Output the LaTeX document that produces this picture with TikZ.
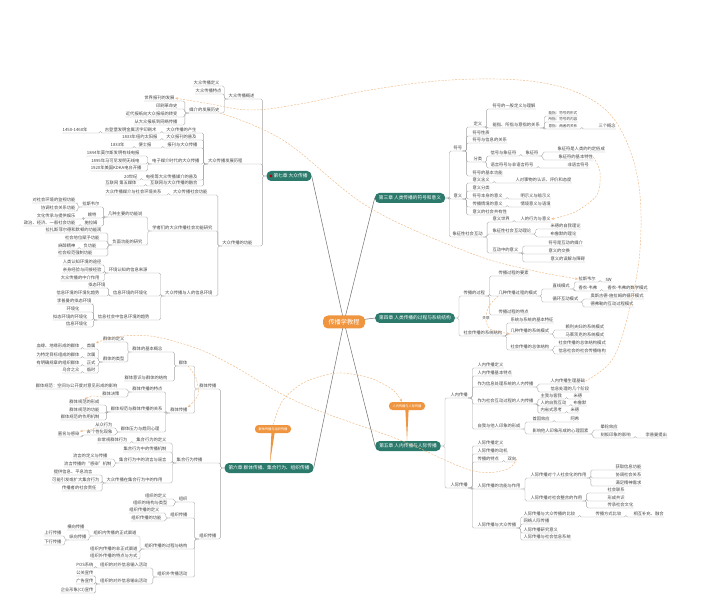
\documentclass[tikz,border=0pt]{standalone}
\usepackage{fontspec}
\newfontfamily\cjk{Noto Sans CJK SC}
\usetikzlibrary{arrows.meta,backgrounds}
\definecolor{teal0}{HTML}{2C7A6C}
\definecolor{orng}{HTML}{F0953F}
\definecolor{relc}{HTML}{F0B984}
\definecolor{lnc}{HTML}{A3A3A3}
\definecolor{txt}{HTML}{444444}
\definecolor{mainl}{HTML}{707070}
\tikzset{
 lf/.style={inner xsep=0.5pt,inner ysep=0.9pt,outer sep=0pt,text=txt,font=\cjk\fontsize{4.3}{5}\selectfont},
 lfs/.style={lf,font=\cjk\fontsize{3.6}{4.2}\selectfont},
 ln/.style={draw=lnc,line width=0.35pt,rounded corners=1.5pt},
 chap/.style={fill=teal0,text=white,rounded corners=4.5pt,minimum height=10pt,inner xsep=4pt,inner ysep=1pt,font=\cjk\fontsize{4.7}{5.5}\selectfont},
 rootst/.style={fill=orng,text=white,rounded corners=5pt,minimum height=13pt,minimum width=42pt,font=\cjk\fontsize{6.2}{7}\selectfont},
 calls/.style={fill=orng,text=white,rounded corners=3.5pt,minimum height=8pt,minimum width=36pt,inner xsep=2pt,inner ysep=0.5pt,font=\cjk\fontsize{3.2}{3.8}\selectfont},
 rel/.style={draw=relc,line width=0.45pt,dash pattern=on 2pt off 1.4pt},
 relA/.style={rel,-{Stealth[length=3pt,width=2.4pt]}},
 mainst/.style={draw=mainl,line width=0.5pt}
}
\newcommand\mkR[4]{\node[lf,anchor=south west] (#1) at (#2,#3) {#4};}
\newcommand\mkL[4]{\node[lf,anchor=south east] (#1) at (#2,#3) {#4};}
\newcommand\linkL[2]{\foreach \kid in {#2}{\draw[ln] (#1.south west) -- ++(-4,0) |- (\kid.south east) -- (\kid.south west);}}
\newcommand\linkR[2]{\foreach \kid in {#2}{\draw[ln] (#1.south east) -- ++(4,0) |- (\kid.south west) -- (\kid.south east);}}
\newcommand\linkCL[2]{\foreach \kid in {#2}{\draw[ln] (#1.west) -- ++(-4,0) |- (\kid.south east) -- (\kid.south west);}}
\newcommand\linkCR[2]{\foreach \kid in {#2}{\draw[ln] (#1.east) -- ++(4,0) |- (\kid.south west) -- (\kid.south east);}}
\begin{document}
\begin{tikzpicture}[x=1pt,y=-1pt]
\useasboundingbox (0,0) rectangle (720,601);
% ---------- root and chapters
\node[rootst] (root) at (344,322) {传播学教程};
\node[chap] (ch7) at (289,176) {\hspace{3pt}第七章 大众传播};
\fill[red!70!black] ([xshift=4.5pt]ch7.west) circle (1.5pt);
\node[chap] (ch3) at (410,198) {第三章 人类传播的符号和意义};
\node[chap] (ch4) at (415,318) {第四章 人类传播的过程与系统结构};
\node[chap] (ch5) at (408,446) {第五章 人内传播与人际传播};
\node[chap] (ch6) at (269,468) {第六章 群体传播、集合行为、组织传播};
\node[calls] (lab5) at (407,406) {人内传播与人际传播};
\node[calls] (lab6) at (273,429) {群体传播与组织传播};
\fill[orng] ([xshift=-1.6pt]lab5.south) -- ([xshift=1.6pt]lab5.south) -- (ch5.north -| lab5.south) -- cycle;
\fill[orng] ([xshift=-1.6pt]lab6.south) -- ([xshift=1.6pt]lab6.south) -- ([xshift=-3pt]ch6.north -| lab6.south) -- cycle;
% ---------- chapter 7 (left)
\mkL{a3}{255}{99}{大众传播概述}
\mkL{a1}{220}{86}{大众传播定义}
\mkL{a2}{222}{94}{大众传播特点}
\mkL{a4}{220}{113}{媒介的发展历史}
\mkL{a4a}{175}{101}{世界报刊的发展}
\mkL{a4b}{178}{109}{印刷革命史}
\mkL{a4c}{178}{117}{近代报纸向大众报纸的转变}
\mkL{a4d}{178}{125}{从大众报纸到网络传播}
\mkL{a16}{243}{164}{大众传播发展历程}
\mkL{a5}{197}{133}{大众传播的产生}
\mkL{a5a}{157}{133}{古登堡发明金属活字印刷术}
\mkL{a5b}{88}{133}{1450-1460年}
\mkL{a6}{197}{140}{大众报刊的普及}
\mkL{a6a}{158}{140}{1833年纽约太阳报}
\mkL{a7}{198}{148}{报刊与大众传播}
\mkL{a7a}{152}{148}{便士报}
\mkL{a7b}{125}{148}{1833年}
\mkL{a10}{200}{164}{电子媒介时代的大众传播}
\mkL{a8}{140}{156}{1844年莫尔斯发明有线电报}
\mkL{a9}{140}{164}{1895年马可尼发明无线电}
\mkL{a11}{142}{171}{1920年美国KDKA电台开播}
\mkL{a13}{198}{180}{电视等大众传播媒介的普及}
\mkL{a12}{138}{180}{20世纪}
\mkL{a15}{198}{186}{互联网与大众传播的融合}
\mkL{a14}{137}{186}{互联网 第五媒体}
\mkL{a40}{253}{246}{大众传播的功能}
\mkL{a18}{208}{195}{大众传播社会功能}
\mkL{a17}{162}{195}{大众传播媒介与社会环境关系}
\mkL{a19}{213}{231}{学者们的大众传播社会功能研究}
\mkL{a20}{143}{217}{几种主要的功能说}
\mkL{a21}{100}{207}{拉斯韦尔}
\mkL{a21a}{76}{203}{对社会环境的监视功能}
\mkL{a21b}{76}{211}{协调社会关系功能}
\mkL{a22}{97}{218}{赖特}
\mkL{a22a}{76}{219}{文化传承与提供娱乐}
\mkL{a23}{98}{226}{施拉姆}
\mkL{a23a}{76}{226}{政治、经济、一般社会功能}
\mkL{a25}{143}{245}{负面功能的研究}
\mkL{a26}{102}{233}{拉扎斯菲尔德和默顿的功能观}
\mkL{a27}{100}{241}{社会地位赋予功能}
\mkL{a28}{97}{249}{负功能}
\mkL{a28a}{76}{249}{麻醉精神}
\mkL{a29}{93}{256}{社会规范强制功能}
\mkL{a30}{213}{296}{大众传播与人的信息环境}
\mkL{a31}{148}{273}{环境认知的信息来源}
\mkL{a31a}{102}{265}{人类认知环境的途径}
\mkL{a31b}{102}{273}{亲身经验与间接经验}
\mkL{a31c}{100}{281}{大众传播的中介作用}
\mkL{a32}{148}{296}{信息环境的环境化}
\mkL{a32a}{106}{288}{拟态环境}
\mkL{a32b}{100}{296}{信息环境的环境化趋势}
\mkL{a33}{150}{320}{信息社会中信息环境的趋势}
\mkL{a33a}{92}{304}{李普曼的拟态环境}
\mkL{a33b}{80}{312}{环境化}
\mkL{a33c}{88}{320}{拟态环境的环境化}
\mkL{a33d}{88}{327}{信息环境化}
\linkCL{ch7}{a3,a16,a40}
\linkL{a3}{a1,a2,a4}
\linkL{a4}{a4a,a4b,a4c,a4d}
\linkL{a16}{a5,a6,a7,a10,a13,a15}
\linkL{a5}{a5a}\linkL{a5a}{a5b}\linkL{a6}{a6a}\linkL{a7}{a7a}\linkL{a7a}{a7b}
\linkL{a10}{a8,a9,a11}\linkL{a13}{a12}\linkL{a15}{a14}
\linkL{a40}{a18,a19,a30}\linkL{a18}{a17}\linkL{a19}{a20,a25}
\linkL{a20}{a21,a22,a23}\linkL{a21}{a21a,a21b}\linkL{a22}{a22a}\linkL{a23}{a23a}
\linkL{a25}{a26,a27,a28,a29}\linkL{a28}{a28a}
\linkL{a30}{a31,a32,a33}\linkL{a31}{a31a,a31b,a31c}\linkL{a32}{a32a,a32b}
\linkL{a33}{a33a,a33b,a33c,a33d}
% ---------- chapter 6 (left)
\mkL{b1}{217}{389}{群体传播}
\mkL{b1a}{188}{366}{群体}
\mkL{b1a1}{163}{352}{群体的基本概念}
\mkL{b1a1a}{125}{342}{群体的定义}
\mkL{b1a1b}{125}{362}{群体的类型}
\mkL{b1t1}{96}{349}{首属}
\mkL{b1t2}{96}{358}{次属}
\mkL{b1t3}{96}{366}{正式}
\mkL{b1t4}{96}{373}{临时}
\mkL{b1l1}{80}{349}{血缘、地缘形成的群体}
\mkL{b1l2}{80}{358}{为特定目标组成的群体}
\mkL{b1l3}{80}{366}{有明确规章的组织群体}
\mkL{b1l4}{80}{373}{乌合之众}
\mkL{b1a2}{168}{381}{群体意识与群体的结构}
\mkL{b1b}{188}{413}{群体传播}
\mkL{b1b1}{163}{392}{群体传播的特点}
\mkL{b1b1a}{118}{389}{群体规范：空间与公开度对意见形成的影响}
\mkL{b1b1b}{120}{397}{群体决策}
\mkL{b1b2}{163}{412}{群体规范与群体传播的关系}
\mkL{b1b2a}{100}{405}{群体规范的形成}
\mkL{b1b2b}{100}{413}{群体规范的功能}
\mkL{b1b2c}{100}{420}{群体规范的作用机制}
\mkL{b1b3}{160}{432}{群体压力与趋同心理}
\mkL{b1b3a}{113}{428}{从众行为}
\mkL{b1b3b}{113}{435}{去个性化现象}
\mkL{b1b3c}{80}{437}{匿名与感染}
\mkL{b2}{203}{463}{集合行为传播}
\mkL{b2a}{167}{443}{集合行为的定义}
\mkL{b2a1}{128}{443}{非常规群体行为}
\mkL{b2b}{167}{452}{集合行为中的传播机制}
\mkL{b2c}{167}{463}{集合行为中的流言与谣言}
\mkL{b2c1}{108}{459}{流言的定义与传播}
\mkL{b2c2}{112}{467}{流言传播的“感染”机制}
\mkL{b2d}{163}{483}{大众传播在集合行为中的作用}
\mkL{b2d1}{93}{475}{提供信息、平息流言}
\mkL{b2d2}{100}{483}{可能引发或扩大集合行为}
\mkL{b2d3}{97}{491}{传播者的社会责任}
\mkL{b3}{217}{539}{组织传播}
\mkL{b3a}{188}{502}{组织}
\mkL{b3a1}{167}{499}{组织的定义}
\mkL{b3a2}{168}{506}{组织的结构与类型}
\mkL{b3b}{188}{518}{组织传播}
\mkL{b3b1}{160}{513}{组织传播的定义}
\mkL{b3b2}{162}{521}{组织传播的功能}
\mkL{b3c}{188}{549}{组织传播的过程与结构}
\mkL{b3c1}{137}{536}{组织内传播的正式渠道}
\mkL{b3c1a}{85}{530}{横向传播}
\mkL{b3c1b}{87}{540}{纵向传播}
\mkL{b3c1c}{62}{536}{上行传播}
\mkL{b3c1d}{62}{545}{下行传播}
\mkL{b3c2}{138}{552}{组织内传播的非正式渠道}
\mkL{b3c3}{138}{559}{组织外传播的特点与方式}
\mkL{b3d}{188}{577}{组织外传播活动}
\mkL{b3d1}{148}{568}{组织的对外信息输入活动}
\mkL{b3d1a}{94}{568}{POS系统}
\mkL{b3d2}{148}{584}{组织的对外信息输出活动}
\mkL{b3d2a}{94}{576}{公关宣传}
\mkL{b3d2b}{94}{584}{广告宣传}
\mkL{b3d2c}{94}{593}{企业形象(CI)宣传}
\linkCL{ch6}{b1,b2,b3}
\linkL{b1}{b1a,b1b}\linkL{b1a}{b1a1,b1a2}\linkL{b1a1}{b1a1a,b1a1b}
\linkL{b1a1b}{b1t1,b1t2,b1t3,b1t4}
\linkL{b1t1}{b1l1}\linkL{b1t2}{b1l2}\linkL{b1t3}{b1l3}\linkL{b1t4}{b1l4}
\linkL{b1b}{b1b1,b1b2,b1b3}\linkL{b1b1}{b1b1a,b1b1b}\linkL{b1b2}{b1b2a,b1b2b,b1b2c}
\linkL{b1b3}{b1b3a,b1b3b}\linkL{b1b3b}{b1b3c}
\linkL{b2}{b2a,b2b,b2c,b2d}\linkL{b2a}{b2a1}\linkL{b2c}{b2c1,b2c2}\linkL{b2d}{b2d1,b2d2,b2d3}
\linkL{b3}{b3a,b3b,b3c,b3d}\linkL{b3a}{b3a1,b3a2}\linkL{b3b}{b3b1,b3b2}
\linkL{b3c}{b3c1,b3c2,b3c3}\linkL{b3c1}{b3c1a,b3c1b}\linkL{b3c1b}{b3c1c,b3c1d}
\linkL{b3d}{b3d1,b3d2}\linkL{b3d1}{b3d1a}\linkL{b3d2}{b3d2a,b3d2b,b3d2c}
% ---------- chapter 3 (right)
\mkR{c1}{453}{151}{符号}
\mkR{c1a}{473}{127}{定义}
\mkR{c1a1}{492}{109}{符号的一般定义与理解}
\mkR{c1a2}{492}{128}{能指、所指与意指的关系}
\node[lfs,anchor=south west] (c1a2a) at (548,116) {能指：符号的形式};
\node[lfs,anchor=south west] (c1a2b) at (548,122) {所指：符号的内容};
\node[lfs,anchor=south west] (c1a2c) at (548,129) {意指：两者的关系};
\mkR{c1a2d}{598}{129}{三个概念}
\mkR{c1b}{472}{136}{符号性质}
\mkR{c1c}{472}{143}{符号与信息的关系}
\mkR{c1d}{473}{162}{分类}
\mkR{c1d1}{490}{156}{信号与象征符}
\mkR{c1d1a}{525}{156}{象征符}
\mkR{c1d1b}{557}{152}{象征符是人类的约定俗成}
\mkR{c1d1c}{558}{160}{象征符的基本特性}
\mkR{c1d2}{490}{168}{语言符号与非语言符号}
\mkR{c1d2a}{567}{168}{非语言符号}
\mkR{c1e}{472}{176}{符号的基本功能}
\mkR{c2}{453}{199}{意义}
\mkR{c2a}{472}{183}{意义含义}
\mkR{c2a1}{515}{183}{人对事物的认识、评价和态度}
\mkR{c2b}{472}{191}{意义分类}
\mkR{c2c}{472}{199}{符号本身的意义}
\mkR{c2c1}{520}{199}{明示义与暗示义}
\mkR{c2d}{472}{207}{传播情境的意义}
\mkR{c2d1}{520}{207}{情境意义与语境}
\mkR{c2e}{472}{215}{意义的社会共有性}
\mkR{c3}{452}{237}{象征性社会互动}
\mkR{c3a}{492}{222}{意义世界}
\mkR{c3a1}{520}{222}{人的行为与意义}
\mkR{c3b}{492}{234}{象征性社会互动理论}
\mkR{c3b1}{550}{229}{米德的自我理论}
\mkR{c3b2}{550}{237}{布鲁默的理论}
\mkR{c3c}{492}{253}{互动中的意义}
\mkR{c3c1}{548}{246}{符号是互动的媒介}
\mkR{c3c2}{548}{254}{意义的交换}
\mkR{c3c3}{550}{262}{意义的误解与障碍}
\linkCR{ch3}{c1,c2,c3}
\linkR{c1}{c1a,c1b,c1c,c1d,c1e}\linkR{c1a}{c1a1,c1a2}\linkR{c1a2}{c1a2a,c1a2b,c1a2c}\linkR{c1a2c}{c1a2d}
\linkR{c1d}{c1d1,c1d2}\linkR{c1d1}{c1d1a}\linkR{c1d1a}{c1d1b,c1d1c}\linkR{c1d2}{c1d2a}
\linkR{c2}{c2a,c2b,c2c,c2d,c2e}\linkR{c2a}{c2a1}\linkR{c2c}{c2c1}\linkR{c2d}{c2d1}
\linkR{c3}{c3a,c3b,c3c}\linkR{c3a}{c3a1}\linkR{c3b}{c3b1,c3b2}\linkR{c3c}{c3c1,c3c2,c3c3}
% ---------- chapter 4 (right)
\mkR{d1}{463}{296}{传播的过程}
\mkR{d1a}{498}{276}{传播过程的要素}
\mkR{d1b}{498}{296}{几种传播过程的模式}
\mkR{d1b1}{552}{289}{直线模式}
\mkR{dls}{578}{282}{拉斯韦尔}
\mkR{d5w}{605}{282}{5W}
\mkR{dsw}{578}{291}{香农-韦弗}
\mkR{dsw1}{607}{291}{香农-韦弗的数学模式}
\mkR{d1b2}{552}{302}{循环互动模式}
\mkR{d1b2a}{590}{299}{奥斯古德-施拉姆的循环模式}
\mkR{d1b2b}{590}{307}{德弗勒的互动过程模式}
\mkR{d1c}{498}{315}{传播过程的特点}
\mkR{d2}{463}{336}{社会传播的系统结构}
\mkR{d2a}{510}{323}{系统与系统的基本特征}
\mkR{d2b}{510}{334}{几种传播的系统模式}
\mkR{d2b1}{565}{330}{赖利夫妇的系统模式}
\mkR{d2b2}{565}{338}{马莱茨克的系统模式}
\mkR{d2c}{510}{350}{社会传播的总体结构}
\mkR{d2c1}{558}{346}{社会传播的总体结构模式}
\mkR{d2c2}{558}{354}{信息社会的社会传播结构}
\linkCR{ch4}{d1,d2}
\linkR{d1}{d1a,d1b,d1c}\linkR{d1b}{d1b1,d1b2}\linkR{d1b1}{dls,dsw}\linkR{dls}{d5w}\linkR{dsw}{dsw1}
\linkR{d1b2}{d1b2a,d1b2b}\linkR{d2}{d2a,d2b,d2c}\linkR{d2b}{d2b1,d2b2}\linkR{d2c}{d2c1,d2c2}
% ---------- chapter 5 (right)
\mkR{e1}{450}{398}{人内传播}
\mkR{e1a}{477}{368}{人内传播定义}
\mkR{e1b}{477}{376}{人内传播基本特点}
\mkR{e1c}{477}{387}{作为信息处理系统的人内传播}
\mkR{e1c1}{550}{384}{人内传播生理基础}
\mkR{e1c2}{550}{392}{信息处理的几个阶段}
\mkR{e1d}{477}{404}{作为社会互动过程的人内传播}
\mkR{e1d1}{540}{399}{主我与客我}
\mkR{e1d1a}{573}{399}{米德}
\mkR{e1d2}{540}{406}{人的自我互动}
\mkR{e1d2a}{573}{406}{布鲁默}
\mkR{e1d3}{540}{413}{内省式思考}
\mkR{e1d3a}{570}{413}{米德}
\mkR{e1e}{477}{429}{自我与他人印象的形成}
\mkR{e1e1}{532}{422}{首因效应}
\mkR{e1e1a}{570}{422}{阿希}
\mkR{e1e2}{532}{434}{影响他人印象形成的心理因素}
\mkR{e1e2a}{600}{430}{晕轮效应}
\mkR{e1e2b}{600}{438}{刻板印象的影响}
\mkR{e1e2c}{645}{438}{李普曼提出}
\mkR{e2}{450}{488}{人际传播}
\mkR{e2a}{477}{446}{人际传播定义}
\mkR{e2b}{477}{454}{人际传播的动机}
\mkR{e2c}{477}{462}{传播的特点}
\mkR{e2c1}{507}{462}{双向}
\mkR{e2d}{477}{489}{人际传播的功能与作用}
\mkR{e2d1}{530}{478}{人际传播对个人社会化的作用}
\mkR{e2d1a}{615}{470}{获取信息功能}
\mkR{e2d1b}{615}{478}{协调社会关系}
\mkR{e2d1c}{615}{486}{满足精神需求}
\mkR{e2d2}{530}{501}{人际传播对社会整合的作用}
\mkR{e2d2a}{607}{493}{社会联系}
\mkR{e2d2b}{607}{501}{形成共识}
\mkR{e2d2c}{607}{508}{传承社会文化}
\mkR{e2e}{477}{528}{人际传播与大众传播}
\mkR{e2e1}{523}{517}{人际传播与大众传播的比较}
\mkR{e2e1a}{595}{517}{传播方式比较}
\mkR{e2e1b}{633}{517}{相互补充、融合}
\mkR{e2e2}{523}{524}{网络人际传播}
\mkR{e2e3}{523}{533}{人际传播研究意义}
\mkR{e2e4}{523}{540}{人际传播与社会信息系统}
\linkCR{ch5}{e1,e2}
\linkR{e1}{e1a,e1b,e1c,e1d,e1e}\linkR{e1c}{e1c1,e1c2}\linkR{e1d}{e1d1,e1d2,e1d3}
\linkR{e1d1}{e1d1a}\linkR{e1d2}{e1d2a}\linkR{e1d3}{e1d3a}
\linkR{e1e}{e1e1,e1e2}\linkR{e1e1}{e1e1a}\linkR{e1e2}{e1e2a,e1e2b}\linkR{e1e2b}{e1e2c}
\linkR{e2}{e2a,e2b,e2c,e2d,e2e}\linkR{e2c}{e2c1}\linkR{e2d}{e2d1,e2d2}
\linkR{e2d1}{e2d1a,e2d1b,e2d1c}\linkR{e2d2}{e2d2a,e2d2b,e2d2c}
\linkR{e2e}{e2e1,e2e2,e2e3,e2e4}\linkR{e2e1}{e2e1a}\linkR{e2e1a}{e2e1b}
% ---------- relation curves
\node[lfs,inner sep=0.5pt] (rlab) at (486,318) {关联};
\draw[rel] plot[smooth] coordinates {(d1b.south west) (489,306) (rlab.north)};
\draw[relA] plot[smooth] coordinates {(rlab.south) (490,329) (d2b.south west)};
\draw[relA] plot[smooth,tension=0.6] coordinates {(e1c1.east) (612,360) (628,315) (640,250) (638,180) (618,125) (585,96) (530,81) (450,80) (370,90) (300,104) (250,110) (205,103) (a4a.east)};
\draw[relA] plot[smooth,tension=0.6] coordinates {(a4.south east) (255,126) (293,147) (370,208) (470,253) (530,270) (dls.west)};
\draw[relA] plot[smooth] coordinates {(c1d1c.east) (600,172) (597,195) (575,212) (c3a1.east)};
\draw[relA] plot[smooth,tension=0.6] coordinates {(e2c1.east) (505,470) (470,470) (400,440) (300,403) (230,364) (193,347) (150,336) (115,337) (b1t1.north east)};
\draw[relA] plot[smooth] coordinates {(lab6.north) (283,400) (305,382) (337,373) (370,378) (393,390) ([xshift=-5pt]lab5.north)};
\draw[relA] plot[smooth] coordinates {(b1a.south east) (196,378) (198,395) (b1b.north east)};
\draw[relA] plot[smooth] coordinates {(b1b1b.south west) (92,396) (b1b2a.north)};
\draw[relA] plot[smooth] coordinates {(b1b3a.south west) (90,430) (b1b3c.north east)};
% ---------- background: white page and root links
\begin{pgfonlayer}{background}
\fill[white] (0,0) rectangle (720,601);
\draw[mainst] (root.center) -- (ch7.east);
\draw[mainst] (root.center) -- (ch3.west);
\draw[mainst] (root.center) -- (ch4.west);
\draw[mainst] (root.center) -- (ch5.west);
\draw[mainst] (root.center) -- (ch6.east);
\end{pgfonlayer}
\end{tikzpicture}
\end{document}
